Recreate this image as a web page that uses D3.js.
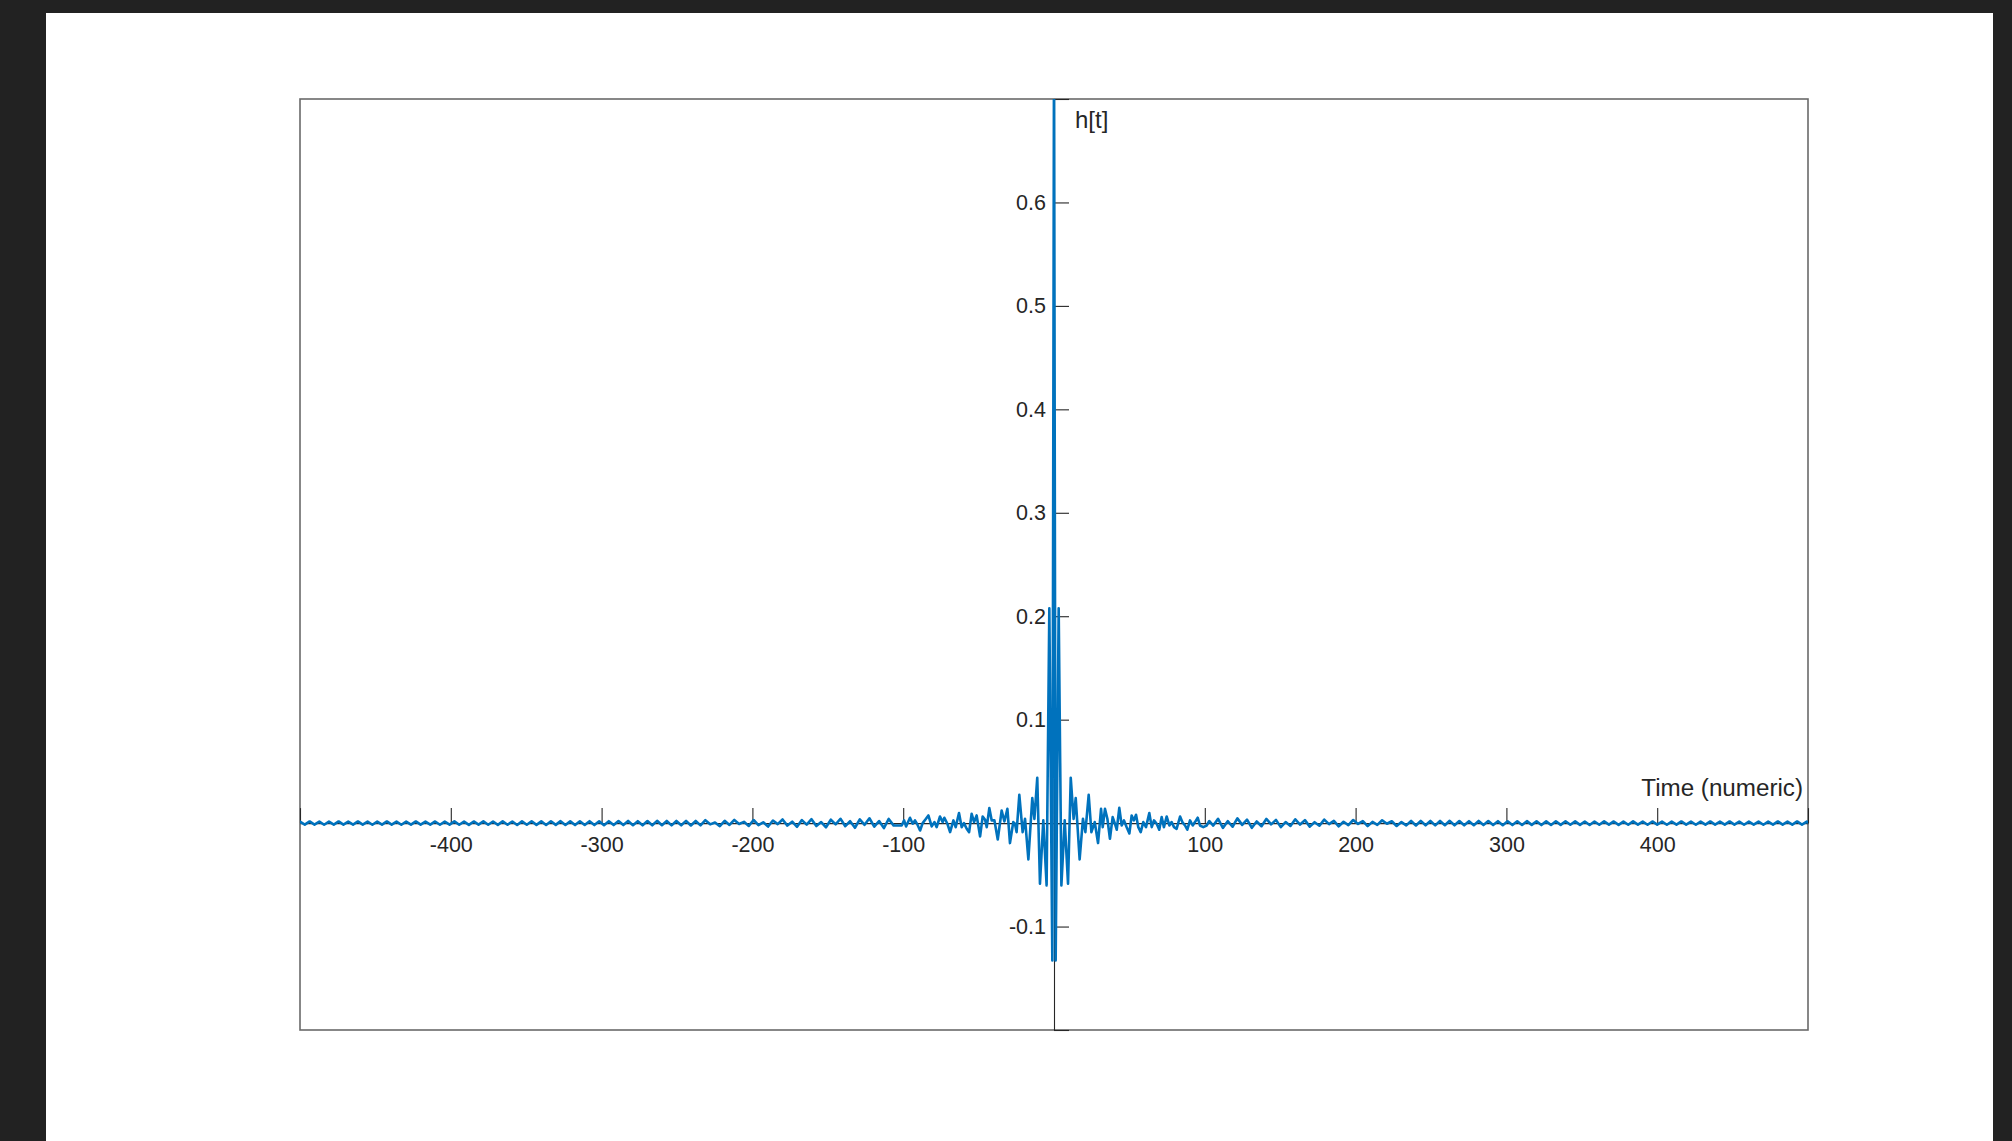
<!DOCTYPE html>
<html>
<head>
<meta charset="utf-8">
<script src="https://cdn.jsdelivr.net/npm/d3@7"></script>
<style>
  html, body { margin: 0; padding: 0; background: #222222; }
  svg { display: block; }
  .tick text { font-family: "Liberation Sans", Arial, Helvetica, sans-serif; }
</style>
</head>
<body>
<svg id="chart" width="2012" height="1141"></svg>
<script>
// ---------- DATA ----------
// Central part of the impulse response: explicit (t, h) pairs
const tCenter = [
  -101.0, -99.4, -98.1, -95.5, -93.7, -92.2, -90.6, -88.8, -87.1, -84.9,
  -83.3, -81.1, -79.3, -77.8, -75.6, -73.8, -72.7, -70.7, -68.9, -66.7,
  -65.2, -63.0, -61.2, -59.7, -57.9, -56.3, -54.6, -53.0, -51.3, -49.0,
  -47.3, -45.7, -44.6, -42.9, -41.3, -39.5, -37.3, -34.7, -32.9, -30.9,
  -29.2, -27.0, -25.9, -24.8, -23.0, -20.8, -19.2, -17.0, -14.4, -13.0,
  -11.1, -9.3, -7.1, -4.9, -3.1, -1.1, 0, 1.1, 3.1, 4.9,
  7.1, 9.3, 11.1, 13.0, 14.4, 17.0, 19.2, 20.8, 23.0, 24.8,
  27.0, 29.2, 31.2, 32.3, 33.8, 35.4, 37.1, 38.9, 40.4, 41.6,
  43.3, 44.9, 46.4, 48.2, 50.0, 51.5, 53.0, 54.4, 55.9, 57.5,
  59.2, 61.0, 63.2, 64.8, 66.3, 68.1, 69.8, 71.4, 72.9, 74.7,
  76.5, 78.0, 79.6, 81.3, 83.6, 85.1, 86.9, 88.4, 90.2, 92.0,
  93.5, 95.3, 96.8, 99.0, 101.2, 103.0
];
const hCenter = [
  -0.0023, 0.0026, -0.0032, 0.0052, -0.0006, 0.0026, -0.0013, -0.0071, 0.0000, 0.0042,
  0.0074, -0.0032, 0.0010, -0.0039, 0.0064, 0.0010, 0.0052, -0.0006, -0.0087, 0.0026,
  -0.0039, 0.0097, -0.0039, 0.0000, -0.0055, -0.0087, 0.0090, 0.0010, 0.0074, -0.0129,
  0.0064, 0.0032, -0.0039, 0.0145, 0.0026, 0.0026, -0.0158, 0.0122, 0.0016, 0.0138,
  -0.0193, 0.0010, -0.0006, -0.0087, 0.0274, -0.0087, 0.0042, -0.0351, 0.0242, 0.0040,
  0.0438, -0.0586, 0.0026, -0.0602, 0.2077, -0.1327, 0.7500, -0.1327, 0.2077, -0.0602,
  0.0026, -0.0586, 0.0438, 0.0040, 0.0242, -0.0351, 0.0042, -0.0087, 0.0274, -0.0087,
  0.0010, -0.0193, 0.0138, -0.0039, 0.0138, 0.0042, -0.0151, 0.0058, -0.0006, -0.0064,
  0.0148, -0.0023, 0.0026, -0.0039, -0.0100, 0.0074, 0.0026, 0.0081, -0.0039, -0.0087,
  0.0010, -0.0039, 0.0097, -0.0039, 0.0026, -0.0006, -0.0064, 0.0058, -0.0039, 0.0064,
  -0.0023, 0.0010, -0.0039, -0.0055, 0.0064, 0.0010, -0.0023, -0.0064, 0.0026, -0.0023,
  0.0010, 0.0052, -0.0023, -0.0039, -0.0023, 0.0020
];

// Tails: small ripple, sampled every tailStep time units
const tailStep = 3.2;
const leftTailStart = -500;
const leftTail = [
  0.0014,-0.0015,0.0016,-0.0014,0.0015,-0.0016,0.0014,-0.0015,0.0016,-0.0015,
  0.0015,-0.0014,0.0016,-0.0015,0.0014,-0.0016,0.0015,-0.0015,0.0016,-0.0014,
  0.0015,-0.0016,0.0014,-0.0015,0.0016,-0.0015,0.0015,-0.0014,0.0016,-0.0016,
  0.0015,-0.0015,0.0017,-0.0016,0.0015,-0.0017,0.0016,-0.0015,0.0017,-0.0016,
  0.0016,-0.0017,0.0017,-0.0016,0.0016,-0.0018,0.0017,-0.0016,0.0018,-0.0017,
  0.0017,-0.0018,0.0018,-0.0017,0.0019,-0.0018,0.0017,-0.0019,0.0018,-0.0018,
  0.0019,-0.0019,0.0018,-0.0020,0.0019,-0.0019,0.0020,-0.0019,0.0021,-0.0020,
  0.0019,-0.0021,0.0020,-0.0021,0.0022,-0.0020,0.0021,-0.0022,0.0021,-0.0021,
  0.0022,-0.0023,0.0021,-0.0022,
  0.0028,-0.0012,0.0006,-0.0030,0.0022,-0.0018,0.0031,-0.0008,0.0012,-0.0027,
  0.0030,-0.0020,0.0008,-0.0033,0.0025,-0.0010,0.0035,-0.0024,0.0014,-0.0036,
  0.0029,-0.0015,0.0038,-0.0028,0.0010,-0.0040,0.0033,-0.0012,0.0042,-0.0030,
  0.0018,-0.0045,0.0036,-0.0016,0.0047,-0.0034,0.0020,-0.0048,0.0040,-0.0022
];
const rightTailStart = 105.6;
const rightTail = [
  -0.0024,0.0041,-0.0046,0.0019,-0.0035,0.0046,-0.0017,0.0034,-0.0045,0.0016,
  -0.0030,0.0040,-0.0012,0.0031,-0.0039,0.0010,-0.0027,0.0037,-0.0014,0.0029,
  -0.0034,0.0009,-0.0025,0.0034,-0.0010,0.0022,-0.0031,0.0013,-0.0019,0.0030,
  -0.0008,0.0020,-0.0029,0.0012,-0.0017,0.0027,-0.0006,0.0018,-0.0028,0.0010,
  -0.0022,0.0021,-0.0023,0.0022,-0.0021,0.0021,-0.0022,0.0021,-0.0020,0.0022,
  -0.0021,0.0020,-0.0021,0.0019,-0.0020,0.0021,-0.0019,0.0020,-0.0019,0.0019,
  -0.0020,0.0018,-0.0019,0.0018,-0.0018,0.0019,-0.0017,0.0018,-0.0019,0.0017,
  -0.0018,0.0018,-0.0017,0.0018,-0.0016,0.0017,-0.0017,0.0016,-0.0018,0.0016,
  -0.0016,0.0017,-0.0015,0.0016,-0.0017,0.0015,-0.0016,0.0017,-0.0015,0.0015,
  -0.0016,0.0016,-0.0014,0.0015,-0.0016,0.0015,-0.0014,0.0016,-0.0015,0.0014,
  -0.0016,0.0015,-0.0015,0.0016,-0.0014,0.0015,-0.0015,0.0016,-0.0014,0.0015,
  -0.0016,0.0014,-0.0015,0.0015,-0.0016,0.0014,-0.0015,0.0016,-0.0015,0.0014,
  -0.0015,0.0016,-0.0014,0.0015,-0.0015
];

const xDomain = [-500, 500];
const yDomain = [-0.2, 0.7];
const xTickValues = [-500, -400, -300, -200, -100, 0, 100, 200, 300, 400, 500];
const xTickLabels = ["", "-400", "-300", "-200", "-100", "", "100", "200", "300", "400", ""];
const yTickValues = [-0.2, -0.1, 0, 0.1, 0.2, 0.3, 0.4, 0.5, 0.6, 0.7];
const yTickLabels = ["", "-0.1", "", "0.1", "0.2", "0.3", "0.4", "0.5", "0.6", ""];
const xLabel = "Time (numeric)";
const yLabel = "h[t]";

// ---------- BUILD SERIES ----------
const series = [];
leftTail.forEach((v, i) => series.push({ t: leftTailStart + i * tailStep, h: v }));
tCenter.forEach((t, i) => series.push({ t: t, h: hCenter[i] }));
rightTail.forEach((v, i) => series.push({ t: rightTailStart + i * tailStep, h: v }));

// ---------- DRAW ----------
const W = 2012, H = 1141;
const box = { left: 300, right: 1808, top: 99, bottom: 1030 };
const svg = d3.select("#chart");

svg.append("rect").attr("x", 0).attr("y", 0).attr("width", W).attr("height", H).attr("fill", "#222222");
svg.append("rect").attr("x", 46).attr("y", 13).attr("width", 1947).attr("height", H - 13).attr("fill", "#ffffff");

const x = d3.scaleLinear().domain(xDomain).range([box.left, box.right]);
const y = d3.scaleLinear().domain(yDomain).range([box.bottom, box.top]);

// box
svg.append("rect")
  .attr("x", box.left).attr("y", box.top)
  .attr("width", box.right - box.left).attr("height", box.bottom - box.top)
  .attr("fill", "none").attr("stroke", "#6a6a6a").attr("stroke-width", 1.6);

const tickColor = "#262626";
const fontFam = "'Liberation Sans', Arial, Helvetica, sans-serif";

// x axis through y = 0
const xAxis = d3.axisBottom(x)
  .tickValues(xTickValues)
  .tickFormat((d, i) => xTickLabels[i])
  .tickSizeInner(-15).tickSizeOuter(0).tickPadding(14);
const gx = svg.append("g").attr("transform", `translate(0,${y(0)})`).call(xAxis);
gx.select(".domain").attr("stroke", tickColor).attr("stroke-width", 1.1);
gx.selectAll(".tick line").attr("stroke", tickColor).attr("stroke-width", 1.1);
gx.selectAll(".tick text").attr("fill", tickColor).style("font-size", "21.5px").style("font-family", fontFam);

// y axis through x = 0
const yAxis = d3.axisLeft(y)
  .tickValues(yTickValues)
  .tickFormat((d, i) => yTickLabels[i])
  .tickSizeInner(-15).tickSizeOuter(0).tickPadding(8);
const gy = svg.append("g").attr("transform", `translate(${x(0)},0)`).call(yAxis);
gy.select(".domain").attr("stroke", tickColor).attr("stroke-width", 1.1);
gy.selectAll(".tick line").attr("stroke", tickColor).attr("stroke-width", 1.1);
gy.selectAll(".tick text").attr("fill", tickColor).style("font-size", "21.5px").style("font-family", fontFam);

// clip
svg.append("clipPath").attr("id", "plotclip").append("rect")
  .attr("x", box.left).attr("y", box.top)
  .attr("width", box.right - box.left).attr("height", box.bottom - box.top);

const line = d3.line().x(d => x(d.t)).y(d => y(d.h));
svg.append("path")
  .datum(series)
  .attr("clip-path", "url(#plotclip)")
  .attr("d", line)
  .attr("fill", "none")
  .attr("stroke", "#0072BD")
  .attr("stroke-width", 2.6)
  .attr("stroke-linejoin", "round")
  .attr("stroke-linecap", "round");

// axis labels
svg.append("text")
  .attr("x", x(0) + 21).attr("y", 128)
  .attr("fill", tickColor)
  .style("font-family", fontFam).style("font-size", "24px")
  .text(yLabel);

svg.append("text")
  .attr("x", box.right - 5).attr("y", 796)
  .attr("text-anchor", "end")
  .attr("fill", tickColor)
  .style("font-family", fontFam).style("font-size", "24.2px")
  .text(xLabel);
</script>
</body>
</html>
